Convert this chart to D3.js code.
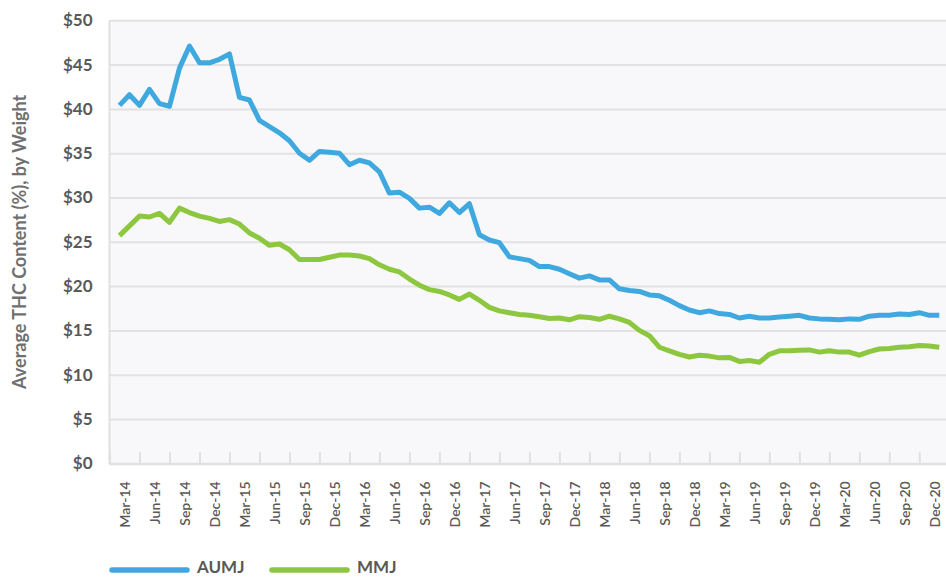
<!DOCTYPE html>
<html>
<head>
<meta charset="utf-8">
<script src="https://cdn.jsdelivr.net/npm/d3@7/dist/d3.min.js"></script>
<style>
  html, body { margin: 0; padding: 0; background: #ffffff; }
  svg { display: block; }
</style>
</head>
<body>
<svg id="chart" width="946" height="577"></svg>
<script>
// ---- Data ----
const tickLabels = ["Mar-14","Jun-14","Sep-14","Dec-14","Mar-15","Jun-15","Sep-15","Dec-15",
  "Mar-16","Jun-16","Sep-16","Dec-16","Mar-17","Jun-17","Sep-17","Dec-17",
  "Mar-18","Jun-18","Sep-18","Dec-18","Mar-19","Jun-19","Sep-19","Dec-19",
  "Mar-20","Jun-20","Sep-20","Dec-20"];
const yTicks = [0,5,10,15,20,25,30,35,40,45,50];
const seriesNames = ["AUMJ","MMJ"];
const aumj = [40.4,41.6,40.4,42.2,40.6,40.3,44.6,47.1,45.2,45.2,45.6,46.2,
  41.3,41.0,38.7,38.0,37.3,36.4,35.0,34.2,35.2,35.1,35.0,33.7,34.2,33.9,32.9,30.5,30.6,
  29.9,28.8,28.9,28.2,29.4,28.3,29.3,
  25.8,25.2,24.9,23.3,23.1,22.9,22.2,22.2,21.9,21.4,20.9,21.15,
  20.7,20.7,19.7,19.5,19.4,19.0,
  18.9,18.4,17.8,17.3,17.0,17.2,16.9,16.8,16.4,16.6,16.4,16.4,16.5,16.6,16.7,16.4,
  16.3,16.25,16.2,16.3,16.25,16.6,16.7,16.7,16.85,16.8,17.0,16.7,16.7];
const mmj = [25.7,26.8,27.9,27.8,28.2,27.2,28.8,28.3,27.9,27.65,27.3,27.5,
  27.0,26.0,25.4,24.6,24.75,24.1,23.0,23.0,23.0,23.25,23.5,23.5,23.4,23.1,
  22.4,21.9,21.6,20.8,20.1,19.6,19.4,19.0,18.5,19.1,18.4,17.6,17.2,17.0,16.8,16.7,16.55,16.35,16.4,16.2,16.55,
  16.45,16.25,16.6,16.3,15.9,15.0,14.4,
  13.1,12.7,12.3,12.0,12.2,12.1,11.9,11.95,11.5,11.6,11.4,12.3,12.7,12.7,12.75,12.8,
  12.55,12.7,12.55,12.55,12.2,12.6,12.9,12.95,13.1,13.15,13.3,13.25,13.1];
const colors = ["#3fa9df","#8dc63f"];

// ---- Layout ----
const svg = d3.select("#chart");
const pL = 109.5, pT = 20.3, pR = 946, pB = 463.3;
const W = pR - pL, H = pB - pT;

const x = d3.scaleLinear().domain([-1, 82.67]).range([pL, pR]);
const y = d3.scaleLinear().domain([0, 50]).range([pB, pT]);

// plot background
svg.append("rect").attr("x", pL).attr("y", pT).attr("width", W).attr("height", H)
  .attr("fill", "#f8f8fa");

// gridlines + y labels
const yAxis = svg.append("g").attr("transform", `translate(${pL},0)`)
  .call(d3.axisLeft(y).tickValues(yTicks).tickSize(-W).tickPadding(17).tickFormat(d => "$" + d));
yAxis.select(".domain").remove();
yAxis.selectAll(".tick line").attr("stroke", "#e2e2e2").attr("stroke-width", 2);
yAxis.selectAll(".tick text").attr("font-family", "Lato, 'Open Sans', sans-serif")
  .attr("font-size", 17).attr("font-weight", 700).attr("fill", "#595959");

// left axis line
svg.append("line").attr("x1", pL).attr("x2", pL).attr("y1", pT).attr("y2", pB + 1)
  .attr("stroke", "#e0e0e0").attr("stroke-width", 2);

// x tick marks (every 3 months, between categories)
const tickPos = tickLabels.map((d, k) => 3 * k - 1);
const xTicks = svg.append("g").attr("transform", `translate(0,${pB})`)
  .call(d3.axisBottom(x).tickValues(tickPos).tickSize(-11).tickFormat(""));
xTicks.select(".domain").remove();
xTicks.selectAll(".tick line").attr("stroke", "#e0e0e0").attr("stroke-width", 2);

// bottom axis line
svg.append("line").attr("x1", pL).attr("x2", pR).attr("y1", pB + 1).attr("y2", pB + 1)
  .attr("stroke", "#e0e0e0").attr("stroke-width", 2);

// x labels
const labelPos = tickLabels.map((d, k) => 3 * k + 0.5);
const xLab = svg.append("g").attr("transform", `translate(0,${pB})`)
  .call(d3.axisBottom(x).tickValues(labelPos).tickSize(0).tickFormat((d, k) => tickLabels[k]));
xLab.select(".domain").remove();
xLab.selectAll(".tick text")
  .attr("font-family", "Lato, 'Open Sans', sans-serif").attr("font-size", 14).attr("font-weight", 600)
  .attr("fill", "#595959")
  .attr("text-anchor", "end").attr("dy", null).attr("y", 0)
  .attr("dominant-baseline", "central")
  .attr("transform", "translate(0,18) rotate(-90)");

// lines
const line = d3.line().x((d, i) => x(i)).y(d => y(d));
[aumj, mmj].forEach((s, j) => {
  svg.append("path").datum(s).attr("d", line)
    .attr("fill", "none").attr("stroke", colors[j]).attr("stroke-width", 5)
    .attr("stroke-linejoin", "round").attr("stroke-linecap", "butt");
});

// y-axis title
svg.append("text")
  .attr("transform", `translate(19,${(pT + pB) / 2}) rotate(-90)`)
  .attr("text-anchor", "middle").attr("dominant-baseline", "central")
  .attr("font-family", "Lato, 'Open Sans', sans-serif").attr("font-size", 18).attr("font-weight", 700)
  .attr("fill", "#707070")
  .text("Average THC Content (%), by Weight");

// legend
const legX = [112, 272];
seriesNames.forEach((name, j) => {
  svg.append("line").attr("x1", legX[j]).attr("x2", legX[j] + 75).attr("y1", 570).attr("y2", 570)
    .attr("stroke", colors[j]).attr("stroke-width", 5.5).attr("stroke-linecap", "round");
  svg.append("text").attr("x", legX[j] + 85).attr("y", 572.5)
    .attr("font-family", "Lato, 'Open Sans', sans-serif").attr("font-size", 17).attr("font-weight", 700)
    .attr("fill", "#595959").text(name);
});
</script>
</body>
</html>
